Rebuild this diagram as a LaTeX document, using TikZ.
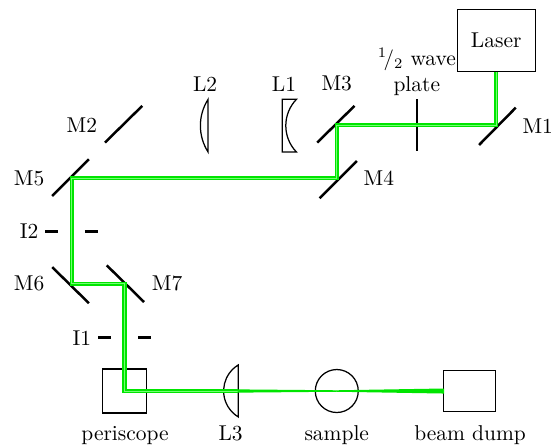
\documentclass[tikz,border=0pt]{standalone}
\usepackage{amsmath}
\tikzset{
  every node/.append style={font=\fontsize{10.3}{12.4}\selectfont},
  optic/.style={draw,line width=.6pt},
  mirror/.style={line width=1.2pt},
  beam/.style={draw=green!90!black,line width=.8pt,double=green!55,double distance=.35pt},
  focus/.style={draw=green!90!black,fill=green!90!black,line width=.7pt},
}
\begin{document}
\begin{tikzpicture}
\useasboundingbox (0,0) rectangle (9.31,7.505);
% boxes and sample
\node[optic,minimum width=1.32cm,minimum height=1.05cm] (laser) at (8.37,6.82) {Laser};
\node[optic,minimum width=.74cm,minimum height=.74cm] (periscope) at (2.10,.91) {};
\node[optic,circle,minimum size=.725cm] (sample) at (5.68,.91) {};
\node[optic,minimum width=.877cm,minimum height=.70cm] (dump) at (7.92,.91) {};
% mirrors
\draw[mirror] (8.08,5.06) -- (8.70,5.69);
\draw[mirror] (5.35,5.10) -- (5.98,5.72);
\draw[mirror] (5.39,4.16) -- (6.02,4.79);
\draw[mirror] (.88,4.20) -- (1.50,4.82);
\draw[mirror] (1.77,5.10) -- (2.40,5.72);
\draw[mirror] (.88,3.00) -- (1.50,2.39);
\draw[mirror] (1.80,3.03) -- (2.43,2.41);
% wave plate and irises
\draw[mirror] (7.03,5.83) -- (7.03,4.95);
\draw[mirror] (.76,3.60) -- (.98,3.60);
\draw[mirror] (1.43,3.60) -- (1.66,3.60);
\draw[mirror] (1.66,1.81) -- (1.88,1.81);
\draw[mirror] (2.33,1.81) -- (2.55,1.81);
% lenses
\draw[optic] (3.51,5.83) arc (147.4:212.6:.826) -- cycle;
\draw[optic] (5.00,5.83) arc (136:224:.64) -- (4.76,4.94) -- (4.76,5.83) -- cycle;
\draw[optic] (4.02,1.35) arc (121:239:.512) -- cycle;
% beam
\coordinate (m1) at (8.37,5.39);
\coordinate (m3) at (5.68,5.39);
\coordinate (m4) at (5.68,4.50);
\coordinate (m5) at (1.21,4.50);
\coordinate (m6) at (1.21,2.72);
\coordinate (m7) at (2.10,2.72);
\coordinate (l3) at (4.02,.91);
\coordinate (l3a) at (4.02,.925);
\coordinate (l3b) at (4.02,.895);
\coordinate (dumpa) at (7.48,.94);
\coordinate (dumpb) at (7.48,.88);
\draw[beam] (laser.south) -- (m1) -- (m3) -- (m4) -- (m5) -- (m6) -- (m7) -- (periscope.center) -- (l3);
\filldraw[focus] (l3a) -- (sample.center) -- (l3b) -- cycle;
\filldraw[focus] (dumpa) -- (sample.center) -- (dumpb) -- cycle;
% labels
\node (lblM1) at (9.07,5.38) {M1};
\node (lblM2) at (1.38,5.40) {M2};
\node (lblM3) at (5.68,6.09) {M3};
\node (lblM4) at (6.39,4.50) {M4};
\node (lblM5) at (.49,4.49) {M5};
\node (lblM6) at (.49,2.72) {M6};
\node (lblM7) at (2.82,2.72) {M7};
\node (lblL1) at (4.79,6.09) {L1};
\node (lblL2) at (3.46,6.09) {L2};
\node (lblI1) at (1.38,1.80) {I1};
\node (lblI2) at (.49,3.60) {I2};
\node[align=center] (lblPlate) at (7.03,6.29) {$^1\!/_2$ wave\\plate};
\node[anchor=base] (lblPeriscope) at (2.11,.07) {periscope};
\node[anchor=base] (lblL3) at (3.89,.07) {L3};
\node[anchor=base] (lblSample) at (5.68,.07) {sample};
\node[anchor=base] (lblDump) at (7.93,.07) {beam dump};
\end{tikzpicture}
\end{document}
